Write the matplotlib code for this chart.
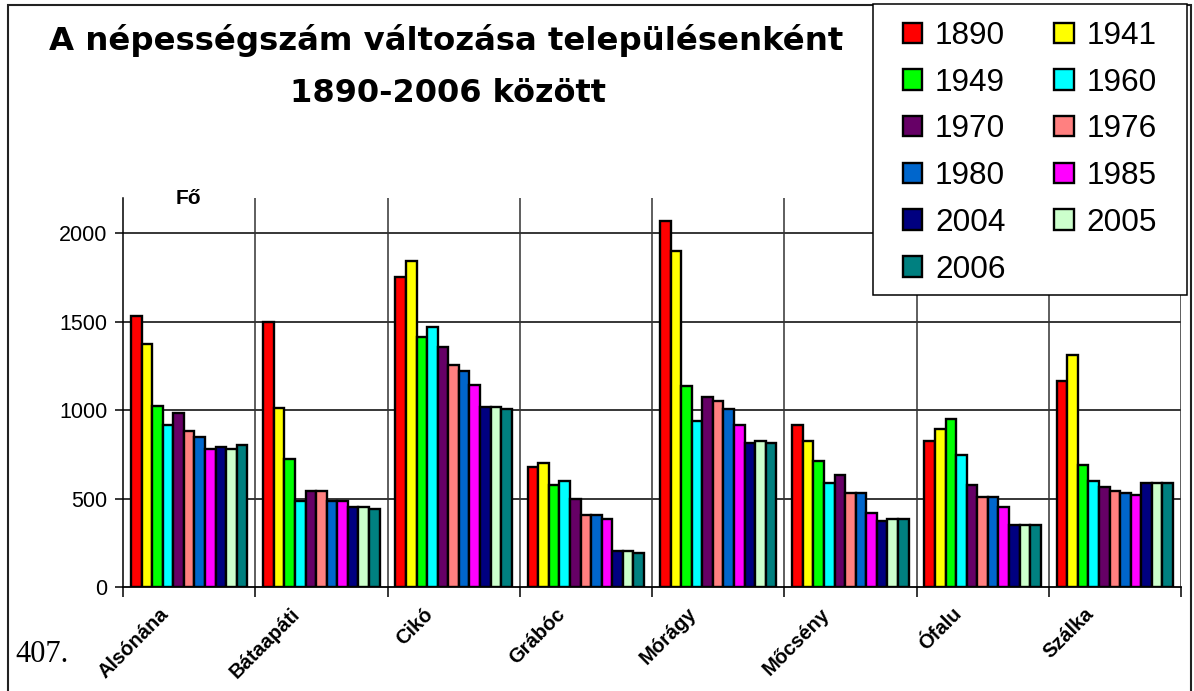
import numpy as np
import matplotlib.pyplot as plt
import matplotlib.transforms as mtransforms
from matplotlib.patches import Rectangle

# settlements and census years
towns = ['Alsónána', 'Bátaapáti', 'Cikó', 'Grábóc', 'Mórágy', 'Mőcsény', 'Ófalu', 'Szálka']
years = ['1890', '1941', '1949', '1960', '1970', '1976', '1980', '1985', '2004', '2005', '2006']

# population per year, one value per settlement (same order as towns)
pop_1890 = [1533, 1500, 1752, 678, 2068, 915, 825, 1164]
pop_1941 = [1375, 1015, 1842, 700, 1898, 825, 893, 1311]
pop_1949 = [1026, 723, 1413, 576, 1139, 712, 949, 689]
pop_1960 = [915, 486, 1471, 599, 938, 588, 746, 599]
pop_1970 = [983, 542, 1358, 497, 1074, 633, 576, 565]
pop_1976 = [883, 542, 1254, 407, 1051, 531, 509, 542]
pop_1980 = [848, 486, 1220, 407, 1006, 531, 509, 531]
pop_1985 = [780, 486, 1141, 384, 915, 418, 452, 520]
pop_2004 = [791, 452, 1017, 203, 814, 373, 350, 588]
pop_2005 = [780, 452, 1017, 203, 825, 384, 350, 588]
pop_2006 = [802, 441, 1006, 192, 814, 384, 350, 588]

series = [pop_1890, pop_1941, pop_1949, pop_1960, pop_1970, pop_1976,
          pop_1980, pop_1985, pop_2004, pop_2005, pop_2006]
colors = ['#FF0000', '#FFFF00', '#00FF00', '#00FFFF', '#660066', '#FF8080',
          '#0066CC', '#FF00FF', '#000080', '#CCFFCC', '#008080']

W, H = 1194, 691
fig = plt.figure(figsize=(W / 100, H / 100), dpi=100)
ax = fig.add_axes([123 / W, 1 - 587 / H, (1181 - 123) / W, (587 - 198) / H])

n = len(series)
group = 0.88
bw = group / n
x = np.arange(len(towns))
handles = []
for i, (vals, c) in enumerate(zip(series, colors)):
    pos = x - group / 2 + bw * (i + 0.5)
    b = ax.bar(pos, vals, width=bw, color=c, edgecolor='black', linewidth=1.7,
               label=years[i], zorder=3)
    handles.append(b)

ax.set_xlim(-0.5, len(towns) - 0.5)
ax.set_ylim(0, 2200)

# grid: horizontal at the y ticks, vertical between the settlements
yt = [0, 500, 1000, 1500, 2000]
ax.set_yticks(yt)
ax.set_yticklabels([str(v) for v in yt], fontsize=15.5, family='Liberation Sans')
for v in yt[1:]:
    ax.axhline(v, color='black', lw=1.1, zorder=1)
bounds = np.arange(len(towns) + 1) - 0.5
for b in bounds[1:]:
    ax.axvline(b, color='#333333', lw=1.1, zorder=1)
ax.set_xticks(bounds)
ax.set_xticklabels([])
ax.tick_params(axis='x', length=7, width=1.1, direction='out')
ax.tick_params(axis='y', length=6, width=1.1, direction='out', pad=5)

for s in ['top', 'right']:
    ax.spines[s].set_visible(False)
ax.spines['left'].set_linewidth(1.1)
ax.spines['bottom'].set_linewidth(1.3)

# rotated settlement names under each group
off = mtransforms.ScaledTranslation(-24 / 100, -24 / 100, fig.dpi_scale_trans)
for xi, t in zip(x, towns):
    ax.text(xi, 0, t, transform=ax.get_xaxis_transform() + off, rotation=45,
            rotation_mode='anchor', ha='right', va='center', fontsize=14.5,
            fontweight='bold', family='Liberation Sans')

fig.text(188 / W, 1 - 199 / H, 'Fő', ha='center', va='center', fontsize=15,
         fontweight='bold', family='Liberation Sans')

# two-line title
fig.text(446 / W, 1 - 50 / H, 'A népességszám változása településenként',
         ha='center', va='baseline', fontsize=23.3, fontweight='bold', family='DejaVu Sans')
fig.text(448 / W, 1 - 102 / H, '1890-2006 között',
         ha='center', va='baseline', fontsize=23, fontweight='bold', family='DejaVu Sans')

fig.text(15 / W, 1 - 662 / H, '407.', ha='left', va='baseline', fontsize=22,
         family='Liberation Serif')

# legend box: white panel with a black border, entries filled row by row
fig.patches.append(Rectangle((873 / W, 1 - 295 / H), 314 / W, 291 / H,
                             transform=fig.transFigure, facecolor='white',
                             edgecolor='black', lw=1.1, zorder=5))
order = [0, 2, 4, 6, 8, 10, 1, 3, 5, 7, 9]
leg = fig.legend([handles[i] for i in order], [years[i] for i in order],
                 loc='upper left', bbox_to_anchor=(873 / W, 1 + 9 / H, 314 / W, 0),
                 bbox_transform=fig.transFigure, mode='expand', ncol=2,
                 prop={'family': 'Liberation Sans', 'size': 22.7},
                 frameon=False,
                 handlelength=0.62, handleheight=0.62, handletextpad=0.4,
                 labelspacing=0.53, columnspacing=1.0, borderpad=0.45)
leg.set_zorder(6)

# page frame
fig.patches.append(Rectangle((8 / W, -0.02), (1191 - 8) / W, 1.02 - 5 / H,
                             transform=fig.transFigure, fill=False,
                             edgecolor='#222222', lw=1.5))

fig.savefig('out.png', dpi=100)
